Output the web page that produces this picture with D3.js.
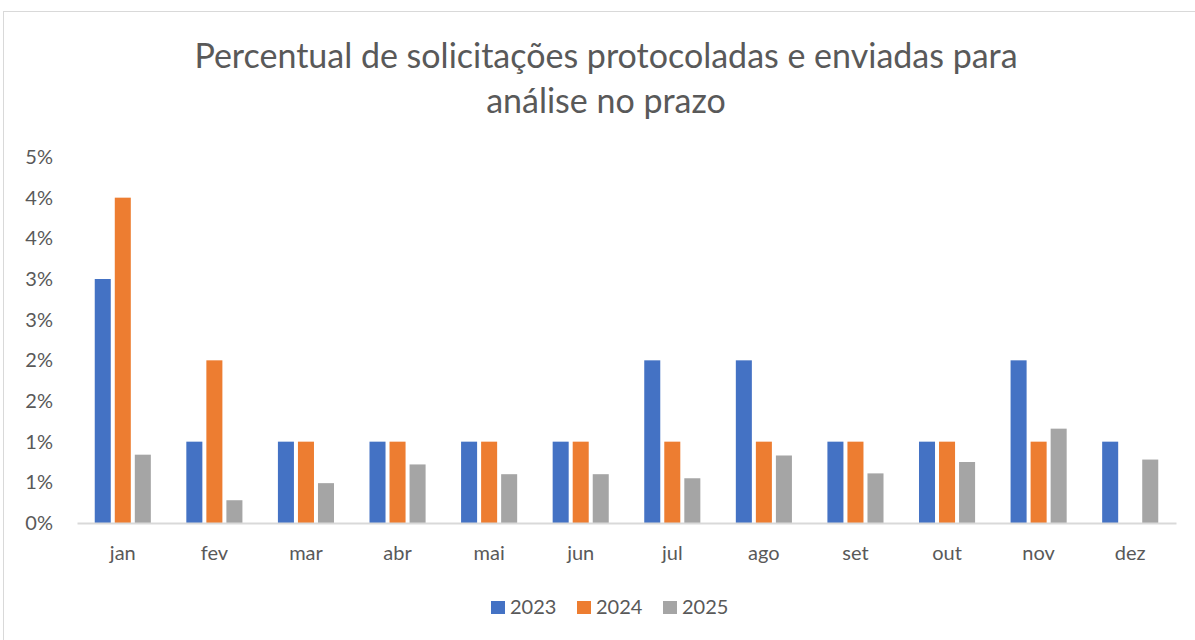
<!DOCTYPE html>
<html>
<head>
<meta charset="utf-8">
<script src="https://cdn.jsdelivr.net/npm/d3@7"></script>
<style>
  body { margin: 0; background: #fff; }
  text { font-family: Lato, "Noto Sans", sans-serif; fill: #595959; }
</style>
</head>
<body>
<div id="chart"></div>
<script>
const width = 1195;
const height = 640;

const months = ["jan", "fev", "mar", "abr", "mai", "jun", "jul", "ago", "set", "out", "nov", "dez"];
const years = ["2023", "2024", "2025"];
const colors = ["#4472c4", "#ed7d31", "#a5a5a5"];

// values in %
const v2023 = [3.0, 1.0, 1.0, 1.0, 1.0, 1.0, 2.0, 2.0, 1.0, 1.0, 2.0, 1.0];
const v2024 = [4.0, 2.0, 1.0, 1.0, 1.0, 1.0, 1.0, 1.0, 1.0, 1.0, 1.0, null];
const v2025 = [0.84, 0.28, 0.49, 0.72, 0.60, 0.60, 0.55, 0.83, 0.61, 0.75, 1.16, 0.78];
const yTicks = [0, 0.5, 1, 1.5, 2, 2.5, 3, 3.5, 4, 4.5];

const series = [v2023, v2024, v2025];
const rows = [];
months.forEach((m, i) => {
  years.forEach((yr, j) => {
    if (series[j][i] != null) rows.push({ month: m, year: yr, value: series[j][i], color: colors[j] });
  });
});

const margin = ({top: 157, right: 19, bottom: 117, left: 77});

const svg = d3.select("#chart").append("svg")
  .attr("width", width)
  .attr("height", height);

// chart border
svg.append("rect")
  .attr("x", 3.5).attr("y", 11.5)
  .attr("width", width).attr("height", height)
  .attr("fill", "none")
  .attr("stroke", "#d9d9d9")
  .attr("stroke-width", 1);

const x0 = d3.scaleBand()
  .domain(months)
  .range([margin.left, width - margin.right])
  .paddingInner(0.3)
  .paddingOuter(0.15);

const x1 = d3.scaleBand()
  .domain(years)
  .range([0, x0.bandwidth()])
  .padding(0.2);

const y = d3.scaleLinear()
  .domain([0, 4.5])
  .range([height - margin.bottom, margin.top]);

// title
svg.append("text")
  .attr("x", 606).attr("y", 68)
  .attr("text-anchor", "middle")
  .style("font-size", "34px")
  .text("Percentual de solicitações protocoladas e enviadas para");
svg.append("text")
  .attr("x", 606).attr("y", 113)
  .attr("text-anchor", "middle")
  .style("font-size", "34px")
  .text("análise no prazo");

// y axis labels (Excel rounds to whole percents)
const yAxis = g => g
  .attr("transform", `translate(${margin.left - 24},0)`)
  .call(d3.axisLeft(y).tickValues(yTicks).tickSize(0).tickPadding(0)
    .tickFormat(d => d3.format(".0f")(Math.round(d + 0.001)) + "%"))
  .call(g => g.select(".domain").remove())
  .call(g => g.selectAll("text").style("font-size", "20px").style("font-family", "Lato, 'Noto Sans', sans-serif").attr("fill", "#595959"));

svg.append("g").call(yAxis);

// bars
svg.append("g")
  .selectAll("rect")
  .data(rows)
  .join("rect")
    .attr("x", d => x0(d.month) + x1(d.year))
    .attr("y", d => y(d.value))
    .attr("width", x1.bandwidth())
    .attr("height", d => y(0) - y(d.value))
    .attr("fill", d => d.color);

// x axis
const xAxis = g => g
  .attr("transform", `translate(0,${y(0)})`)
  .call(d3.axisBottom(x0).tickSize(0).tickPadding(23))
  .call(g => g.select(".domain").attr("stroke", "#d9d9d9").attr("stroke-width", 2))
  .call(g => g.selectAll("text").style("font-size", "20px").style("font-family", "Lato, 'Noto Sans', sans-serif").attr("fill", "#595959"));

svg.append("g").call(xAxis);

// legend
const legendX = [491, 577, 663];
const legend = svg.append("g")
  .selectAll("g")
  .data(years)
  .join("g")
    .attr("transform", (d, i) => `translate(${legendX[i]},601)`);

legend.append("rect")
  .attr("width", 14).attr("height", 13)
  .attr("fill", (d, i) => colors[i]);

legend.append("text")
  .attr("x", 19).attr("y", 13)
  .style("font-size", "20px")
  .text(d => d);
</script>
</body>
</html>
